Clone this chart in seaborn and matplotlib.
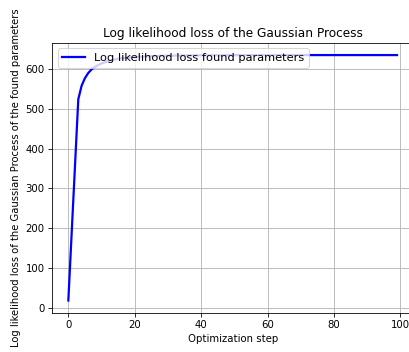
import matplotlib
matplotlib.use("Agg")
import matplotlib.pyplot as plt
import seaborn as sns
import numpy as np
import pandas as pd

steps = list(range(100))
loss = [18, 187, 356, 524, 558, 577, 590, 599, 605, 610,
        614, 617, 620, 622, 624, 625.5, 626.8, 627.8, 628.7, 629.4,
        630.0, 630.6, 631.1, 631.5, 631.9, 632.2, 632.5, 632.8, 633.0, 633.2,
        633.4, 633.5, 633.7, 633.8, 633.9, 634.0, 634.1, 634.2, 634.3, 634.3,
        634.4, 634.4, 634.5, 634.5, 634.5, 634.6, 634.6, 634.6, 634.7, 634.7,
        634.7, 634.7, 634.8, 634.8, 634.8, 634.8, 634.8, 634.8, 634.9, 634.9,
        634.9, 634.9, 634.9, 634.9, 634.9, 634.9, 635.0, 635.0, 635.0, 635.0,
        635.0, 635.0, 635.0, 635.0, 635.0, 635.0, 635.0, 635.0, 635.0, 635.0,
        635.0, 635.0, 635.0, 635.0, 635.0, 635.0, 635.0, 635.0, 635.0, 635.0,
        635.0, 635.0, 635.0, 635.0, 635.0, 635.0, 635.0, 635.0, 635.0, 635.0]

df = pd.DataFrame({"step": steps, "loss": loss})

DPI = 73
fig = plt.figure(figsize=(409 / DPI, 352 / DPI), dpi=DPI)
ax = fig.add_axes([0.1269, 0.1114, 0.884, 0.767])
sns.lineplot(data=df, x="step", y="loss", ax=ax, color="blue", linewidth=2.2,
             label="Log likelihood loss found parameters")
ax.grid(True)
ax.set_title("Log likelihood loss of the Gaussian Process")
ax.set_xlabel("Optimization step")
ax.set_ylabel("Log likelihood loss of the Gaussian Process of the found parameters",
              fontsize=9.9)
ax.legend(loc="upper left", fontsize=11.2)
fig.savefig("out.png", dpi=DPI)
